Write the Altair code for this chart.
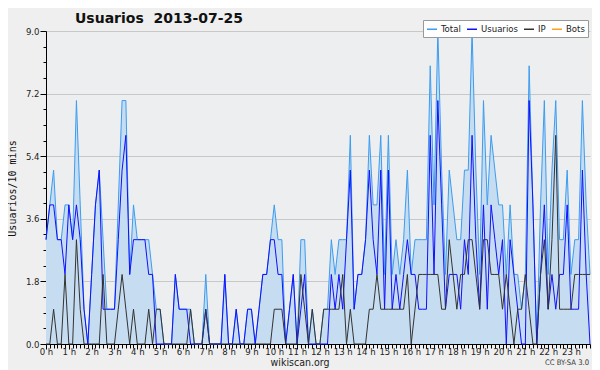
import altair as alt
import pandas as pd

# 10-minute slots over one day (144 points)
usuarios = [3,4,4,3,3,2,4,3,4,3,1,0,2,4,5,1,1,1,1,3,5,6,2,3,
            3,3,3,2,2,0,0,0,0,0,2,1,1,1,0,0,0,0,1,0,0,0,0,2,
            0,0,1,0,0,1,1,0,1,2,2,3,3,2,2,0,1,2,0,1,2,0,0,0,
            0,0,0,2,1,2,1,3,5,1,2,2,3,5,3,2,5,1,5,1,2,1,2,3,
            2,2,1,1,1,6,2,7,4,1,2,2,2,1,3,2,6,3,1,4,1,4,3,2,
            3,0,3,2,1,0,0,7,4,0,2,4,1,2,1,2,2,4,1,1,1,5,2,0]
ip = [0,0,1,0,0,2,0,0,3,1,0,0,0,0,0,2,0,0,0,1,2,1,0,1,
      0,0,0,1,0,1,1,0,0,0,0,0,0,0,1,0,0,0,1,0,0,0,0,0,
      0,0,0,0,0,0,0,0,0,0,0,0,1,1,1,0,0,0,0,2,1,0,1,0,
      0,1,1,1,1,1,2,0,1,0,0,0,0,1,1,2,1,1,1,1,1,1,1,2,
      0,1,2,2,2,2,2,2,1,1,3,2,1,2,2,3,3,2,1,3,3,2,2,2,
      1,2,1,0,1,1,2,1,0,0,2,3,1,3,6,1,1,1,1,2,2,2,2,2]
total = [3,4,5,3,3,4,4,3,7,4,1,0,2,4,5,3,1,1,1,4,7,7,2,4,
         3,3,3,3,2,1,1,0,0,0,2,1,1,1,1,0,0,0,2,0,0,0,0,2,
         0,0,1,0,0,1,1,0,1,2,2,3,4,3,3,0,1,2,0,3,3,0,1,0,
         0,1,1,3,2,3,3,3,6,1,2,2,3,6,4,4,6,2,6,2,3,2,3,5,
         2,3,3,3,3,8,4,9,5,2,5,4,3,3,5,5,9,5,2,7,4,6,5,4,
         4,2,4,2,2,1,2,8,4,0,4,7,2,5,7,3,3,5,2,3,3,7,4,2]

series_names = ["Total", "Usuarios", "IP", "Bots"]
series_colors = ["#3c9cf0", "#1010ff", "#333333", "#ffa020"]
y_ticks = [round(0.45 * k, 2) for k in range(21)]
x_ticks = list(range(144))
title_text = "Usuarios\u00a0 2013-07-25"
y_title = "Usuarios/10 mins"
footer = "wikiscan.org"
license_text = "CC BY-SA 3.0"

NARROW = "DejaVu Sans Condensed, DejaVu Sans"

n = len(total)
df = pd.DataFrame({"i": list(range(n)), "Total": total, "Usuarios": usuarios, "IP": ip})
long = df.melt("i", var_name="serie", value_name="v")

W, H = 544, 313

xenc = alt.X(
    "i:Q",
    scale=alt.Scale(domain=[0, n - 1], nice=False, zero=False),
    axis=alt.Axis(
        values=x_ticks,
        labelExpr="datum.value % 6 === 0 ? (datum.value / 6) + ' h' : ''",
        labelOverlap=False,
        labelFlush=False,
        labelPadding=-3,
        labelBaseline="top",
        tickSize={"condition": {"test": "datum.value % 6 === 0", "value": 5}, "value": 4},
        grid=False,
        title=None,
        domainColor="#000000",
        tickColor="#000000",
        labelFont=NARROW,
        labelFontSize=9.5,
        labelColor="#222222",
    ),
)
major_test = "abs(datum.value / 1.8 - round(datum.value / 1.8)) < 0.001"
yenc = alt.Y(
    "v:Q",
    scale=alt.Scale(domain=[0, 9], nice=False, zero=True),
    axis=alt.Axis(
        values=y_ticks,
        labelExpr=f"{major_test} ? format(datum.value, '.1f') : ''",
        labelOverlap=False,
        labelFlush=False,
        labelPadding=1,
        tickSize={"condition": {"test": major_test, "value": 6}, "value": 3},
        grid=True,
        gridColor="#c8c8c8",
        gridOpacity={"condition": {"test": major_test, "value": 1}, "value": 0},
        domainColor="#000000",
        tickColor="#000000",
        labelFont=NARROW,
        labelFontSize=9.5,
        labelColor="#222222",
        title=y_title,
        titleFont="DejaVu Sans Mono",
        titleFontSize=10,
        titleFontWeight="normal",
        titleColor="#111111",
        titleX=-34,
        titleY=157,
        titleAngle=270,
        titleAlign="center",
        titleBaseline="middle",
    ),
)

color = alt.Color(
    "serie:N",
    scale=alt.Scale(domain=series_names, range=series_colors),
    legend=alt.Legend(
        title=None,
        orient="none",
        legendX=377,
        legendY=-11,
        direction="horizontal",
        symbolType="stroke",
        symbolSize=100,
        symbolStrokeWidth=1.5,
        labelFont=NARROW,
        labelFontSize=9.5,
        labelColor="#222222",
        labelOffset=3,
        columnPadding=3,
        padding=3,
        fillColor="#ffffff",
        strokeColor="#999999",
    ),
)

base = alt.Chart(long)
area = base.transform_filter("datum.serie == 'Total'").mark_area(
    color="#c6dcf0", opacity=1
).encode(x=xenc, y=yenc)

layers = [area]
for s in ["Total", "Usuarios", "IP"]:
    layers.append(
        base.transform_filter(f"datum.serie == '{s}'")
        .mark_line(strokeWidth=1, interpolate="linear")
        .encode(x=xenc, y=yenc, color=color)
    )

ann = pd.DataFrame({"k": [0]})
title_mark = alt.Chart(ann).mark_text(
    align="left", baseline="middle", font="DejaVu Sans", fontSize=14, fontWeight="bold", color="#111111"
).encode(x=alt.value(29), y=alt.value(-12), text=alt.value(title_text))
footer_mark = alt.Chart(ann).mark_text(
    align="center", baseline="middle", font=NARROW, fontSize=10.5, color="#222222"
).encode(x=alt.value(254), y=alt.value(H + 19), text=alt.value(footer))
lic_mark = alt.Chart(ann).mark_text(
    align="right", baseline="middle", font=NARROW, fontSize=7.6, color="#333333"
).encode(x=alt.value(543), y=alt.value(H + 19), text=alt.value(license_text))

chart = alt.layer(*layers, title_mark, footer_mark, lic_mark).properties(
    width=W, height=H,
    autosize=alt.AutoSizeParams(type="none"),
    padding={"left": 38, "top": 23, "right": 2, "bottom": 26},
).configure(background="#efefef").configure_view(fill="#eceef0", stroke=None)

chart.save("out.html", embed_options={"renderer": "svg", "actions": False})
